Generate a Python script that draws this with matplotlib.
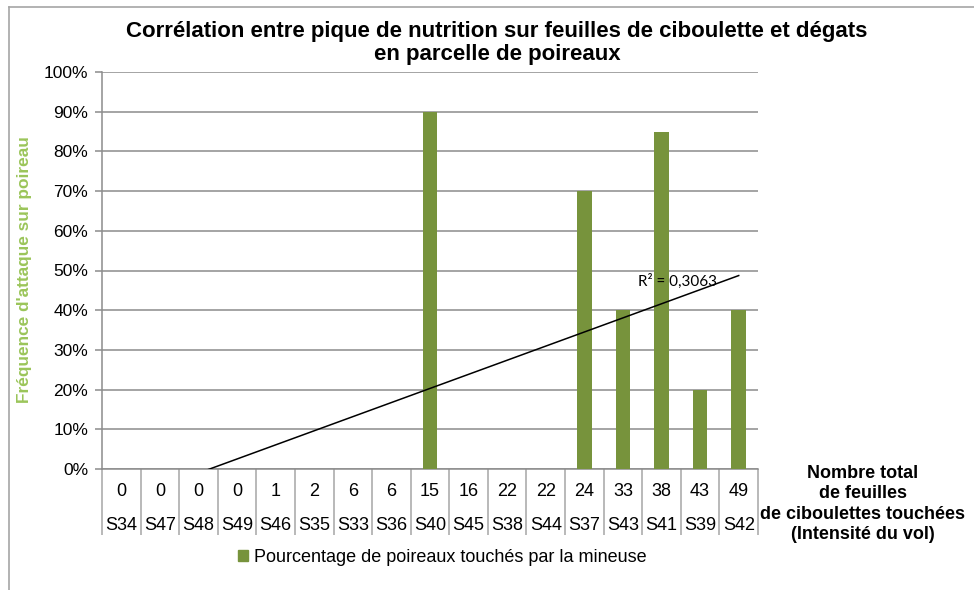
import numpy as np
import matplotlib
matplotlib.use("Agg")
import matplotlib.pyplot as plt
from matplotlib.lines import Line2D
from matplotlib.patches import Patch

plt.rcParams['font.family'] = ['Liberation Sans', 'DejaVu Sans']

# Données : nombre de feuilles touchées, semaine, % poireaux touchés
feuilles = [0, 0, 0, 0, 1, 2, 6, 6, 15, 16, 22, 22, 24, 33, 38, 43, 49]
semaines = ["S34", "S47", "S48", "S49", "S46", "S35", "S33", "S36", "S40",
            "S45", "S38", "S44", "S37", "S43", "S41", "S39", "S42"]
pourcentage = [0, 0, 0, 0, 0, 0, 0, 0, 0.90, 0, 0, 0, 0.70, 0.40, 0.85, 0.20, 0.40]

W, H = 974, 590
fig = plt.figure(figsize=(W / 100, H / 100), dpi=100)

# Cadre du graphique (gauche et haut)
fig.add_artist(Line2D([9 / W, 9 / W], [0, 1 - 7 / H], color='#a6a6a6', lw=1.2))
fig.add_artist(Line2D([9 / W, 1], [1 - 7 / H, 1 - 7 / H], color='#a6a6a6', lw=1.2))

x0, x1, y_top, y_bot = 102, 758, 72, 469
ax = fig.add_axes([x0 / W, 1 - y_bot / H, (x1 - x0) / W, (y_bot - y_top) / H])

x = np.arange(len(semaines))
ax.bar(x, pourcentage, width=0.38, color='#77933C', zorder=3)

# Courbe de tendance linéaire (x = 1..17 comme Excel)
xs = x + 1
a, b = np.polyfit(xs, pourcentage, 1)
pred = a * xs + b
r2 = 1 - np.sum((np.array(pourcentage) - pred) ** 2) / np.sum((np.array(pourcentage) - np.mean(pourcentage)) ** 2)
xl = np.array([xs[0], xs[-1]])
ax.plot(xl - 1, a * xl + b, color='black', lw=1.1, zorder=4)
ax.text(13.4, a * 15 + b + 0.045, f"R² = {r2:.4f}".replace('.', ','),
        fontsize=11, family=['Lato', 'DejaVu Sans'], zorder=5)

ax.set_xlim(-0.5, len(x) - 0.5)
ax.set_ylim(0, 1)
ax.set_yticks(np.arange(0, 1.01, 0.1))
ax.set_yticklabels([f"{int(round(v * 100))}%" for v in np.arange(0, 1.01, 0.1)], fontsize=12.5)
ax.yaxis.grid(True, color='#8c8c8c', lw=1.1, zorder=0)
ax.tick_params(axis='y', length=5, color='#8c8c8c', width=1.1, pad=5)
ax.tick_params(axis='x', bottom=False, labelbottom=False)
for s in ['top', 'right']:
    ax.spines[s].set_visible(False)
for s in ['left', 'bottom']:
    ax.spines[s].set_color('#8c8c8c')
    ax.spines[s].set_linewidth(1.1)

# Tableau des catégories sous l'axe
trans = ax.get_xaxis_transform()
h = y_bot - y_top
for i in x:
    ax.text(i, -(492 - y_bot) / h, str(feuilles[i]), transform=trans,
            ha='center', va='center', fontsize=13)
    ax.text(i, -(526 - y_bot) / h, semaines[i], transform=trans,
            ha='center', va='center', fontsize=13)
ax.vlines(np.arange(len(x) + 1) - 0.5, -(535 - y_bot) / h, 0, transform=trans,
          color='#a6a6a6', lw=1.1, clip_on=False)

# Titres
fig.text(497 / W, 1 - 43 / H,
         "Corrélation entre pique de nutrition sur feuilles de ciboulette et dégats\nen parcelle de poireaux",
         ha='center', va='center', fontsize=16, fontweight='bold', linespacing=1.15)
fig.text(25 / W, 1 - 270 / H, "Fréquence d'attaque sur poireau", rotation=90,
         ha='center', va='center', fontsize=12.4, fontweight='bold', color='#9BC55A')
fig.text(863 / W, 1 - 504 / H,
         "Nombre total\nde feuilles\nde ciboulettes touchées\n(Intensité du vol)",
         ha='center', va='center', fontsize=13, fontweight='bold', linespacing=1.27)

# Légende
fig.legend(handles=[Patch(color='#77933C', label='Pourcentage de poireaux touchés par la mineuse')],
           loc='center left', bbox_to_anchor=(222 / W, 1 - 557 / H), frameon=False,
           fontsize=13, handlelength=0.55, handleheight=0.55, handletextpad=0.35)

fig.savefig("out.png", dpi=100)
